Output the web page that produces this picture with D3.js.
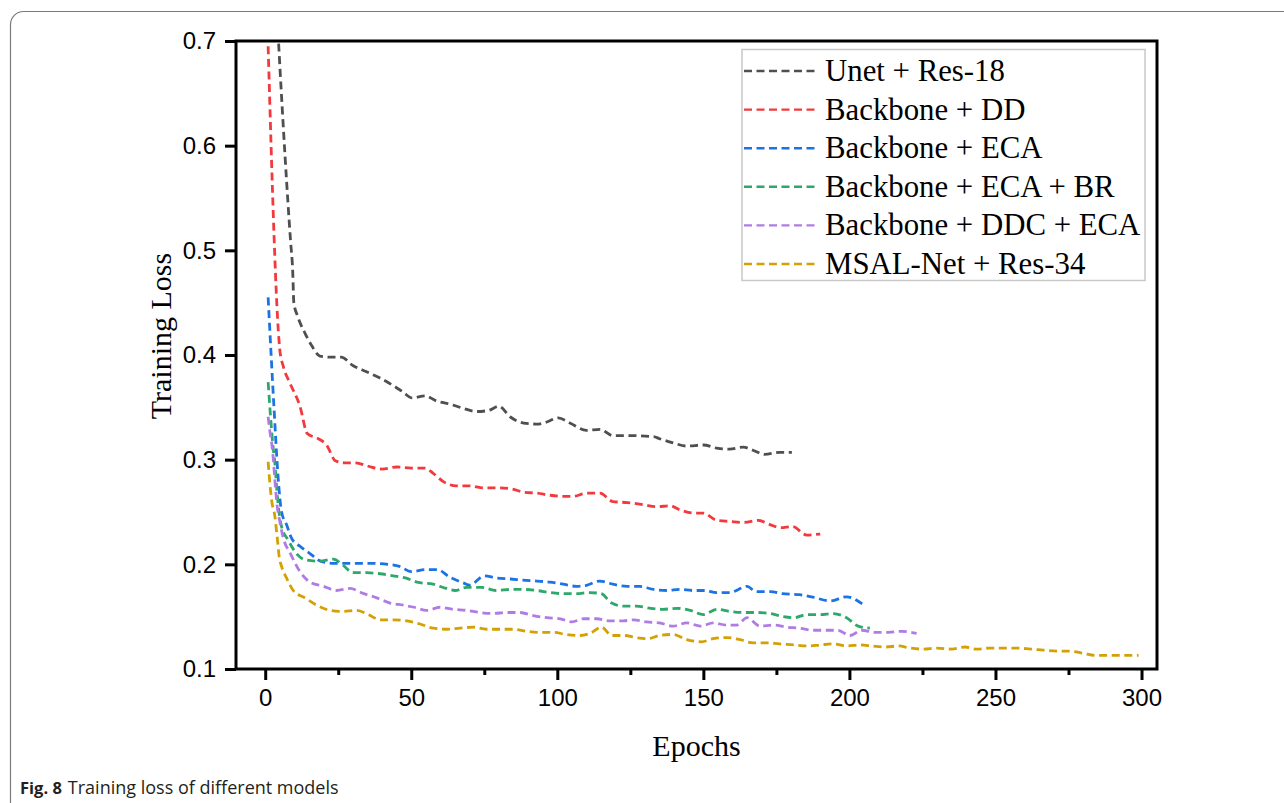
<!DOCTYPE html>
<html>
<head>
<meta charset="utf-8">
<script src="https://cdn.jsdelivr.net/npm/d3@7"></script>
<style>
  html, body { margin: 0; padding: 0; background: #fff; }
  svg { display: block; }
</style>
</head>
<body>
<svg id="chart" width="1284" height="803"></svg>
<script>
// ---------------- DATA ----------------
const seriesNames = ["Unet + Res-18", "Backbone + DD", "Backbone + ECA", "Backbone + ECA + BR", "Backbone + DDC + ECA", "MSAL-Net + Res-34"];
const seriesColors = ["#4f4f4f", "#f23a3e", "#1b73e4", "#2ea86a", "#b07ce4", "#d4a104"];

const xTicks = [0, 50, 100, 150, 200, 250, 300];
const xMinorTicks = [25, 75, 125, 175, 225, 275];
const yTicks = [0.1, 0.2, 0.3, 0.4, 0.5, 0.6, 0.7];

const unetEpochs = [1, 8.7, 9.4, 9.8, 11.1, 13.6, 15.9, 18.7, 22.2, 26, 30, 34.7, 39.3, 43.7, 47, 50.3, 54.7, 58.7, 63.3, 67.8, 72.4, 76.4, 80, 83.8, 88.4, 93, 96.4, 100.3, 104.3, 110, 114.6, 119, 124, 133, 135, 139.7, 144.3, 150, 154.6, 159, 163.7, 167, 171, 176, 180.3];
const unetLoss   = [0.89, 0.508, 0.481, 0.45, 0.437, 0.421, 0.409, 0.399, 0.398, 0.398, 0.390, 0.384, 0.378, 0.371, 0.365, 0.359, 0.361, 0.356, 0.353, 0.349, 0.346, 0.347, 0.351, 0.341, 0.335, 0.334, 0.336, 0.340, 0.335, 0.328, 0.329, 0.323, 0.323, 0.322, 0.320, 0.316, 0.313, 0.314, 0.311, 0.310, 0.312, 0.309, 0.305, 0.307, 0.307];

const ddEpochs = [1, 5, 6.2, 8.5, 11.9, 14.4, 18.2, 21, 24, 27, 31, 35, 40, 45, 50, 54.7, 57.5, 61, 65.5, 70, 74.7, 80.4, 84.4, 88.4, 93, 97.5, 102, 105.5, 110, 114.6, 119, 124, 129.5, 134, 138.6, 142, 146.6, 150, 154.6, 159, 164, 168.8, 172.8, 176.5, 180.5, 185.4, 190];
const ddLoss   = [0.695, 0.405, 0.389, 0.373, 0.351, 0.325, 0.320, 0.314, 0.299, 0.297, 0.297, 0.294, 0.291, 0.293, 0.292, 0.292, 0.287, 0.279, 0.275, 0.275, 0.273, 0.273, 0.272, 0.269, 0.268, 0.266, 0.265, 0.265, 0.268, 0.268, 0.260, 0.259, 0.257, 0.255, 0.256, 0.252, 0.249, 0.249, 0.242, 0.241, 0.240, 0.242, 0.238, 0.235, 0.236, 0.228, 0.229];

const ecaEpochs = [1, 3, 4.5, 5.6, 7.3, 9, 12, 15, 19, 23, 28, 32, 37, 42, 46, 50, 55, 59, 63, 68, 70, 75, 79, 84, 88, 93, 97.5, 102, 106.5, 110, 114.5, 119, 124, 128, 133, 137.5, 142, 146.5, 150.5, 154.5, 159, 165, 168, 173, 177, 183, 187, 193.5, 199, 204.5];
const ecaLoss   = [0.455, 0.35, 0.28, 0.25, 0.238, 0.225, 0.217, 0.211, 0.203, 0.201, 0.201, 0.201, 0.201, 0.200, 0.198, 0.193, 0.195, 0.195, 0.188, 0.182, 0.180, 0.189, 0.187, 0.186, 0.185, 0.184, 0.183, 0.181, 0.179, 0.180, 0.184, 0.181, 0.179, 0.179, 0.176, 0.175, 0.176, 0.175, 0.175, 0.173, 0.173, 0.179, 0.174, 0.174, 0.172, 0.171, 0.169, 0.165, 0.169, 0.162];

const brEpochs = [1, 2.7, 3.3, 3.9, 4.4, 5.6, 7.9, 10.2, 14.2, 18.7, 23.3, 26.7, 30, 34.7, 39.3, 43.8, 48, 52, 57.5, 62, 65, 69, 74, 79, 84, 88.4, 93, 97.5, 102, 106.6, 111, 115, 118.6, 122.6, 127, 132, 136, 141, 145.5, 150, 154.6, 159, 163.7, 168.3, 172.8, 177.4, 181, 185.4, 190, 194.5, 199, 203, 207];
const brLoss   = [0.374, 0.312, 0.297, 0.274, 0.258, 0.236, 0.223, 0.212, 0.204, 0.203, 0.205, 0.199, 0.192, 0.192, 0.191, 0.189, 0.187, 0.183, 0.181, 0.177, 0.175, 0.178, 0.178, 0.175, 0.176, 0.176, 0.175, 0.173, 0.172, 0.172, 0.173, 0.172, 0.163, 0.160, 0.160, 0.158, 0.157, 0.158, 0.156, 0.152, 0.157, 0.155, 0.154, 0.154, 0.153, 0.150, 0.149, 0.152, 0.152, 0.153, 0.149, 0.141, 0.139];

const ddcEpochs = [1, 1.6, 2.2, 2.7, 3.3, 4, 5, 6.2, 8.5, 11.9, 15.3, 20, 24.4, 29, 33.7, 38.2, 42.8, 47.3, 51, 55.3, 59.8, 64.4, 69, 73.5, 78, 82.7, 87.2, 91.8, 96.4, 101, 105, 109, 113.5, 118, 122.6, 126, 130.6, 135, 139.7, 144.3, 149, 153.4, 158, 161.4, 165, 169.4, 174, 178.5, 183, 187.5, 192, 196, 200.2, 204.2, 208.8, 213.4, 218, 223];
const ddcLoss   = [0.341, 0.327, 0.316, 0.303, 0.281, 0.258, 0.241, 0.225, 0.211, 0.193, 0.183, 0.179, 0.175, 0.177, 0.172, 0.168, 0.163, 0.161, 0.159, 0.156, 0.159, 0.157, 0.156, 0.154, 0.153, 0.154, 0.154, 0.151, 0.149, 0.148, 0.145, 0.148, 0.148, 0.146, 0.146, 0.147, 0.145, 0.144, 0.141, 0.144, 0.141, 0.144, 0.142, 0.142, 0.149, 0.141, 0.142, 0.140, 0.139, 0.137, 0.137, 0.137, 0.132, 0.137, 0.135, 0.135, 0.136, 0.134];

const msalEpochs = [1, 1.6, 2.2, 3.3, 4.1, 4.8, 5.6, 7.3, 9.6, 13.6, 17.6, 22.2, 26.7, 31.3, 35.3, 39.3, 43.8, 48.4, 53, 57.5, 62, 66.7, 71.2, 75.8, 80.4, 85, 89.5, 94, 98.6, 103, 107.8, 111.2, 115.2, 118.6, 123, 127, 131, 135, 139.7, 144.3, 149.4, 153.4, 158, 162.6, 167, 171.7, 176, 181, 185.4, 190, 194.5, 199, 203.7, 207.7, 212.2, 216.8, 220.8, 225.3, 230, 235, 239.6, 243.6, 248, 252.7, 257.3, 262, 266.4, 271, 275.6, 280, 284, 289, 293, 299];
const msalLoss   = [0.298, 0.277, 0.261, 0.246, 0.226, 0.207, 0.198, 0.187, 0.175, 0.168, 0.161, 0.156, 0.155, 0.156, 0.152, 0.147, 0.147, 0.146, 0.143, 0.139, 0.138, 0.139, 0.140, 0.138, 0.138, 0.138, 0.136, 0.135, 0.135, 0.133, 0.132, 0.134, 0.140, 0.132, 0.132, 0.130, 0.129, 0.132, 0.133, 0.128, 0.126, 0.129, 0.130, 0.128, 0.125, 0.125, 0.124, 0.123, 0.122, 0.123, 0.124, 0.122, 0.123, 0.122, 0.121, 0.122, 0.120, 0.119, 0.120, 0.119, 0.121, 0.119, 0.120, 0.120, 0.120, 0.119, 0.118, 0.117, 0.117, 0.115, 0.113, 0.113, 0.113, 0.113];

const allEpochs = [unetEpochs, ddEpochs, ecaEpochs, brEpochs, ddcEpochs, msalEpochs];
const allLoss = [unetLoss, ddLoss, ecaLoss, brLoss, ddcLoss, msalLoss];

// ---------------- DRAW ----------------
const svg = d3.select("#chart");
const W = 1284, H = 803;
const plot = { left: 236, top: 41, right: 1157, bottom: 669 };

svg.append("rect").attr("width", W).attr("height", H).attr("fill", "#fff");

// outer rounded frame
svg.append("rect")
  .attr("x", 10.5).attr("y", 11.5)
  .attr("width", 1300).attr("height", 805)
  .attr("rx", 13).attr("ry", 13)
  .attr("fill", "none").attr("stroke", "#7a7a7a").attr("stroke-width", 1.2);

const x = d3.scaleLinear().domain([-10, 305.3]).range([plot.left, plot.right]);
const y = d3.scaleLinear().domain([0.1, 0.7]).range([plot.bottom, plot.top]);

svg.append("clipPath").attr("id", "clip")
  .append("rect")
  .attr("x", plot.left).attr("y", plot.top)
  .attr("width", plot.right - plot.left).attr("height", plot.bottom - plot.top);

const line = d3.line()
  .x(d => x(d[0]))
  .y(d => y(d[1]))
  .curve(d3.curveMonotoneX);

const linesG = svg.append("g").attr("clip-path", "url(#clip)");
seriesNames.forEach((name, i) => {
  const pts = allEpochs[i].map((e, j) => [e, allLoss[i][j]]);
  linesG.append("path")
    .datum(pts)
    .attr("d", line)
    .attr("fill", "none")
    .attr("stroke", seriesColors[i])
    .attr("stroke-width", 2.8)
    .attr("stroke-dasharray", "8,4.6")
    .attr("stroke-linecap", "butt");
});

// axes
const xAxis = d3.axisBottom(x).tickValues(xTicks).tickSize(11).tickPadding(9).tickFormat(d3.format("d"));
const xMinor = d3.axisBottom(x).tickValues(xMinorTicks).tickSize(6).tickFormat("");
const yAxis = d3.axisLeft(y).tickValues(yTicks).tickSize(11).tickPadding(9).tickFormat(d3.format(".1f"));

const gx = svg.append("g").attr("transform", `translate(0,${plot.bottom})`).call(xAxis);
const gxm = svg.append("g").attr("transform", `translate(0,${plot.bottom})`).call(xMinor);
const gy = svg.append("g").attr("transform", `translate(${plot.left},0)`).call(yAxis);

[gx, gxm, gy].forEach(g => {
  g.select(".domain").remove();
  g.selectAll(".tick line").attr("stroke", "#000").attr("stroke-width", 3);
  g.selectAll(".tick text")
    .attr("fill", "#000")
    .style("font-family", "'Liberation Sans', Arial, sans-serif")
    .style("font-size", "24px");
});

// frame
svg.append("rect")
  .attr("x", plot.left).attr("y", plot.top)
  .attr("width", plot.right - plot.left).attr("height", plot.bottom - plot.top)
  .attr("fill", "none").attr("stroke", "#000").attr("stroke-width", 3);

// axis titles
svg.append("text")
  .attr("x", (plot.left + plot.right) / 2).attr("y", 756)
  .attr("text-anchor", "middle")
  .style("font-family", "'Liberation Serif', 'Times New Roman', serif")
  .style("font-size", "30px")
  .attr("fill", "#000")
  .text("Epochs");

svg.append("text")
  .attr("transform", `translate(171,336) rotate(-90)`)
  .attr("text-anchor", "middle")
  .style("font-family", "'Liberation Serif', 'Times New Roman', serif")
  .style("font-size", "30px")
  .attr("fill", "#000")
  .text("Training Loss");

// legend
const leg = svg.append("g");
leg.append("rect")
  .attr("x", 742).attr("y", 49.5)
  .attr("width", 403).attr("height", 231)
  .attr("fill", "#fff").attr("stroke", "#c8c8c8").attr("stroke-width", 1.5);

seriesNames.forEach((name, i) => {
  const cy = 71 + i * 38.6;
  leg.append("line")
    .attr("x1", 744).attr("x2", 818)
    .attr("y1", cy).attr("y2", cy)
    .attr("stroke", seriesColors[i])
    .attr("stroke-width", 2.4)
    .attr("stroke-dasharray", "8,4.5");
  leg.append("text")
    .attr("x", 825).attr("y", cy + 10)
    .style("font-family", "'Liberation Serif', 'Times New Roman', serif")
    .style("font-size", "30.8px")
    .attr("fill", "#000")
    .text(name);
});

// caption
const cap = svg.append("text")
  .attr("x", 20).attr("y", 794)
  .style("font-family", "'Open Sans', 'Noto Sans', sans-serif")
  .attr("fill", "#231f20");
cap.append("tspan").style("font-weight", "bold").style("font-size", "16.5px").text("Fig. 8");
cap.append("tspan").attr("dx", 6).style("font-size", "18px").text("Training loss of different models");
</script>
</body>
</html>
